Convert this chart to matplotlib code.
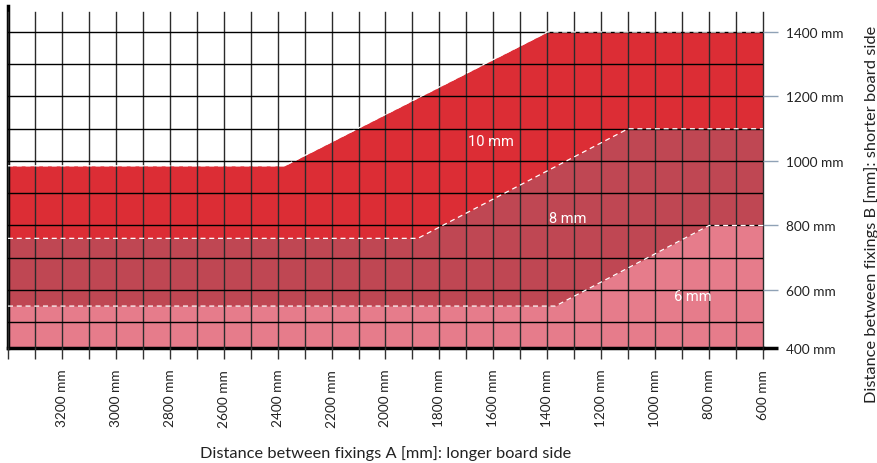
import numpy as np
import matplotlib.pyplot as plt
from matplotlib.ticker import MultipleLocator, FixedLocator

# outline points of each thickness zone (A = longer side, B = shorter side), mm
a_10 = [3400, 2375, 1400, 600]
b_10 = [985, 985, 1400, 1400]
a_8 = [3400, 1880, 1100, 600]
b_8 = [760, 760, 1100, 1100]
a_6 = [3400, 1370, 800, 600]
b_6 = [550, 550, 800, 800]

zone_names = ['10 mm', '8 mm', '6 mm']
zone_colors = ['#dc2d35', '#bf4753', '#e67c8b']
label_pos = [(1610, 1062), (1323, 823), (859, 581)]

x_ticks = list(range(3200, 599, -200))
x_labels = [f'{v} mm' for v in x_ticks]
y_ticks = [420, 600, 800, 1000, 1200, 1400]
y_labels = ['400 mm', '600 mm', '800 mm', '1000 mm', '1200 mm', '1400 mm']

plt.rcParams['font.family'] = ['Lato', 'DejaVu Sans']

fig = plt.figure(figsize=(8.78, 4.64), dpi=100)
ax = fig.add_axes([8 / 878, 1 - 349 / 464, (763 - 8) / 878, (349 - 13) / 464])

ymin, ymax = 420, 1462
for a, b, c in zip([a_10, a_8, a_6], [b_10, b_8, b_6], zone_colors):
    ax.fill_between(a, ymin - 50, b, color=c, lw=0, zorder=1)
    ax.plot(a, b, color='white', ls=(0, (4, 3)), lw=0.9, zorder=3)

for (x, y), name in zip(label_pos, zone_names):
    ax.text(x, y, name, color='white', fontsize=10.5, ha='center', va='center',
            family=['Liberation Sans Narrow', 'DejaVu Sans Condensed', 'Roboto'],
            zorder=4)

ax.set_xlim(3400, 600)
ax.set_ylim(ymin, ymax)

ax.xaxis.set_major_locator(FixedLocator(x_ticks))
ax.xaxis.set_minor_locator(MultipleLocator(100))
ax.set_xticklabels(x_labels, rotation=90, fontsize=9.8, color='#222222')
ax.tick_params(axis='x', which='both', direction='out', length=8, width=1,
               color='#333333', pad=7)

ax.yaxis.tick_right()
ax.yaxis.set_major_locator(FixedLocator(y_ticks))
ax.yaxis.set_minor_locator(FixedLocator([500, 700, 900, 1100, 1300]))
ax.set_yticklabels(y_labels, fontsize=9.8, color='#222222')
ax.tick_params(axis='y', which='major', direction='out', length=10.5, width=1,
               color='#8fa2b6', pad=6)
ax.tick_params(axis='y', which='minor', length=0)
bottom_tick = ax.yaxis.get_major_ticks()[0].tick2line
bottom_tick.set_markeredgecolor('black')
bottom_tick.set_markeredgewidth(2.5)

ax.set_axisbelow(False)
ax.grid(which='both', axis='x', color='#2b2b2b', lw=1.0)
ax.grid(which='both', axis='y', color='black', lw=1.0)
for t in ax.xaxis.get_major_ticks() + ax.xaxis.get_minor_ticks():
    t.gridline.set_clip_on(False)

for side in ['top', 'right']:
    ax.spines[side].set_visible(False)
ax.spines['left'].set_linewidth(2.5)
ax.spines['left'].set_bounds(ymin, 1480)
ax.spines['bottom'].set_linewidth(2.5)

ax.set_xlabel('Distance between fixings A [mm]: longer board side', fontsize=11.8,
              color='#222222')
ax.xaxis.set_label_coords(0.5, -0.288)
ax.yaxis.set_label_position('right')
ax.set_ylabel('Distance between fixings B [mm]: shorter board side', fontsize=11.8,
              color='#222222')
ax.yaxis.set_label_coords(1.134, 0.402)

fig.savefig('out.png', dpi=100)
